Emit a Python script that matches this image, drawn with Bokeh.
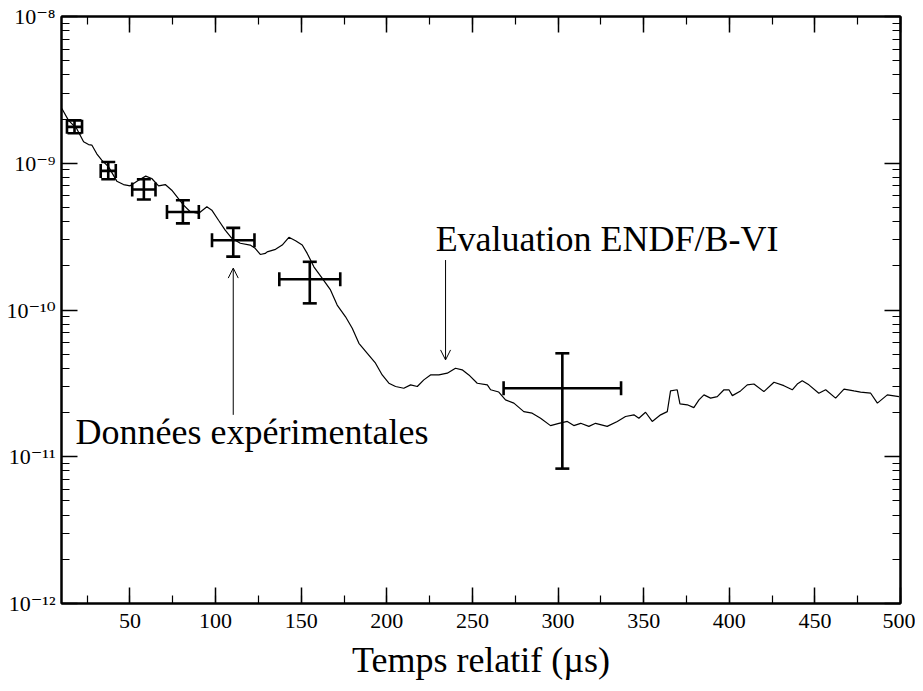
from bokeh.plotting import figure
from bokeh.models import (ColumnDataSource, Whisker, TeeHead, LinearAxis, LogAxis,
                          SingleIntervalTicker, LogTicker, Arrow, OpenHead, Label,
                          CustomJSTickFormatter)
from bokeh.embed import file_html
from bokeh.resources import INLINE

# ENDF/B-VI evaluation curve (time in us, value)
eval_t = [10.2, 14.1, 18.9, 22.9, 25.8, 27.7, 30.6, 33.5, 37.5, 42.3, 46.2, 50.1, 55.0, 59.2,
          62.7, 66.7, 70.6, 74.4, 78.3, 81.3, 85.2, 90.0, 94.9, 97.8, 101.7, 105.6, 109.5,
          114.4, 120.2, 123.1, 126.1, 129.0, 130.1, 135.0, 138.9, 142.8, 146.7, 150.6, 153.5,
          157.4, 162.3, 167.1, 171.0, 175.9, 179.8, 183.7, 188.6, 193.4, 197.3, 201.2, 205.1,
          209.9, 213.9, 217.8, 221.6, 225.5, 230.4, 235.3, 240.1, 244.0, 247.9, 252.8, 258.7,
          260.6, 265.4, 269.3, 274.2, 280.0, 284.9, 289.8, 295.6, 300.5, 305.4, 309.2, 313.2,
          318.0, 321.9, 328.7, 334.6, 339.4, 344.3, 347.2, 351.1, 355.0, 359.9, 363.8, 365.7,
          369.6, 371.2, 375.5, 379.3, 382.3, 385.2, 389.1, 393.0, 396.9, 399.8, 401.8, 406.6,
          410.5, 414.4, 420.2, 426.1, 431.9, 436.8, 439.7, 442.6, 446.5, 452.3, 456.3, 462.1,
          467.0, 472.8, 476.7, 482.6, 486.5, 492.3, 499.1]
eval_v = [2.36e-9, 1.96e-9, 1.72e-9, 1.40e-9, 1.34e-9, 1.33e-9, 1.16e-9, 1.05e-9, 9.44e-10,
          7.55e-10, 7.16e-10, 7.02e-10, 7.66e-10, 8.17e-10, 7.87e-10, 7.02e-10, 7.16e-10,
          6.55e-10, 5.75e-10, 5.18e-10, 4.67e-10, 4.55e-10, 5.05e-10, 4.79e-10, 4.09e-10,
          3.50e-10, 3.08e-10, 2.85e-10, 2.77e-10, 2.63e-10, 2.39e-10, 2.43e-10, 2.49e-10,
          2.59e-10, 2.77e-10, 3.13e-10, 2.96e-10, 2.77e-10, 2.43e-10, 1.97e-10, 1.64e-10,
          1.37e-10, 1.08e-10, 8.99e-11, 7.51e-11, 5.93e-11, 5.07e-11, 4.34e-11, 3.61e-11,
          3.17e-11, 3.01e-11, 2.93e-11, 3.09e-11, 3.01e-11, 3.34e-11, 3.61e-11, 3.61e-11,
          3.71e-11, 4.01e-11, 3.91e-11, 3.61e-11, 3.17e-11, 3.09e-11, 2.86e-11, 2.76e-11,
          2.44e-11, 2.32e-11, 2.03e-11, 1.98e-11, 1.83e-11, 1.63e-11, 1.69e-11, 1.74e-11,
          1.63e-11, 1.69e-11, 1.61e-11, 1.69e-11, 1.61e-11, 1.74e-11, 1.88e-11, 1.93e-11,
          1.83e-11, 2.01e-11, 1.74e-11, 1.93e-11, 2.03e-11, 2.81e-11, 2.86e-11, 2.29e-11,
          2.26e-11, 2.16e-11, 2.44e-11, 2.64e-11, 2.51e-11, 2.57e-11, 2.86e-11, 2.86e-11,
          2.61e-11, 2.81e-11, 3.09e-11, 3.13e-11, 2.78e-11, 3.22e-11, 3.05e-11, 2.86e-11,
          3.13e-11, 3.29e-11, 3.09e-11, 2.71e-11, 2.86e-11, 2.51e-11, 2.89e-11, 2.81e-11,
          2.76e-11, 2.71e-11, 2.32e-11, 2.64e-11, 2.57e-11]

# Experimental data with error bars
exp_t = [17.6, 37.3, 58.1, 80.9, 110.3, 155.0, 302.5]
exp_terr = [4.4, 4.4, 6.8, 9.3, 12.4, 17.8, 34.3]
exp_v = [1.77e-9, 8.87e-10, 6.62e-10, 4.65e-10, 2.99e-10, 1.62e-10, 2.93e-11]
exp_vhi = [1.96e-9, 1.02e-9, 7.78e-10, 5.60e-10, 3.63e-10, 2.13e-10, 5.07e-11]
exp_vlo = [1.60e-9, 7.78e-10, 5.66e-10, 3.89e-10, 2.31e-10, 1.11e-10, 8.3e-12]

# Annotations
label_eval = "Evaluation ENDF/B-VI"
label_exp = "Données expérimentales"
label_eval_pos = (228.5, 3.04e-10)
label_exp_pos = (18.2, 1.48e-11)
arrow_eval = (234.3, 2.19e-10, 234.3, 4.57e-11)
arrow_exp = (110.3, 1.93e-11, 110.3, 1.93e-10)

x_title = "Temps relatif (µs)"
x_ticks_interval = 50
X_MIN, X_MAX = 10, 500

FONT = "Liberation Serif"
LABEL_FONT = "Liberation Serif, DejaVu Serif"

p = figure(width=915, height=683, x_range=(X_MIN, X_MAX), y_range=(1e-12, 1e-8),
           y_axis_type="log", output_backend="svg", toolbar_location=None,
           min_border_left=61, min_border_right=15, min_border_top=16, min_border_bottom=80,
           x_axis_label=x_title)
p.xgrid.visible = False
p.ygrid.visible = False
p.outline_line_color = "black"
p.outline_line_width = 2
p.background_fill_color = "white"
p.border_fill_color = "white"

sup_js = """
const m = {'-':'\u207b','0':'\u2070','1':'\u00b9','2':'\u00b2','3':'\u00b3','4':'\u2074',
           '5':'\u2075','6':'\u2076','7':'\u2077','8':'\u2078','9':'\u2079'};
const e = Math.round(Math.log10(tick));
return '10' + String(e).split('').map(c => m[c]).join('');
"""


def style_axis(ax, labels=True, standoff=10):
    ax.axis_line_color = "black"
    ax.axis_line_width = 2
    ax.major_tick_in = 16
    ax.major_tick_out = 0
    ax.minor_tick_in = 8
    ax.minor_tick_out = 0
    ax.major_tick_line_color = "black"
    ax.major_tick_line_width = 1.5
    ax.minor_tick_line_color = "black"
    ax.minor_tick_line_width = 1.2
    ax.major_label_text_font = LABEL_FONT
    ax.major_label_text_color = "black"
    if labels:
        ax.major_label_text_font_size = "22px"
        ax.major_label_standoff = standoff
    else:
        ax.formatter = CustomJSTickFormatter(code="return ''")
        ax.major_label_text_font_size = "1px"
        ax.major_label_standoff = 0


xa = p.xaxis[0]
xa.ticker = SingleIntervalTicker(interval=x_ticks_interval, num_minor_ticks=2)
style_axis(xa)
xa.axis_label_text_font = FONT
xa.axis_label_text_font_size = "36px"
xa.axis_label_text_font_style = "normal"
xa.axis_label_standoff = 9
xa.axis_label_text_color = "black"

ya = p.yaxis[0]
ya.ticker = LogTicker(num_minor_ticks=10)
ya.formatter = CustomJSTickFormatter(code=sup_js)
style_axis(ya, standoff=6)

top = LinearAxis(ticker=SingleIntervalTicker(interval=x_ticks_interval, num_minor_ticks=2))
style_axis(top, labels=False)
p.add_layout(top, "above")
right = LogAxis(ticker=LogTicker(num_minor_ticks=10))
style_axis(right, labels=False)
p.add_layout(right, "right")

# curve
p.line(eval_t, eval_v, line_color="black", line_width=1.2)

# error bars
src = ColumnDataSource(dict(
    t=exp_t, v=exp_v, vlo=exp_vlo, vhi=exp_vhi,
    tlo=[t - e for t, e in zip(exp_t, exp_terr)],
    thi=[t + e for t, e in zip(exp_t, exp_terr)]))
LW = 2.6
HS = 14
p.add_layout(Whisker(source=src, base="t", lower="vlo", upper="vhi", dimension="height",
                     line_color="black", line_width=LW,
                     lower_head=TeeHead(size=HS, line_width=LW, line_color="black"),
                     upper_head=TeeHead(size=HS, line_width=LW, line_color="black")))
p.add_layout(Whisker(source=src, base="v", lower="tlo", upper="thi", dimension="width",
                     line_color="black", line_width=LW,
                     lower_head=TeeHead(size=HS, line_width=LW, line_color="black"),
                     upper_head=TeeHead(size=HS, line_width=LW, line_color="black")))

# annotations
for (x0, y0, x1, y1) in (arrow_eval, arrow_exp):
    p.add_layout(Arrow(x_start=x0, y_start=y0, x_end=x1, y_end=y1, line_width=1,
                       line_color="black",
                       end=OpenHead(size=10, line_width=1, line_color="black")))
p.add_layout(Label(x=label_eval_pos[0], y=label_eval_pos[1], text=label_eval,
                   text_font=FONT, text_font_size="36px", text_color="black",
                   text_baseline="middle", text_align="left"))
p.add_layout(Label(x=label_exp_pos[0], y=label_exp_pos[1], text=label_exp,
                   text_font=FONT, text_font_size="36px", text_color="black",
                   text_baseline="middle", text_align="left"))

open("out.html", "w").write(file_html(p, INLINE))
